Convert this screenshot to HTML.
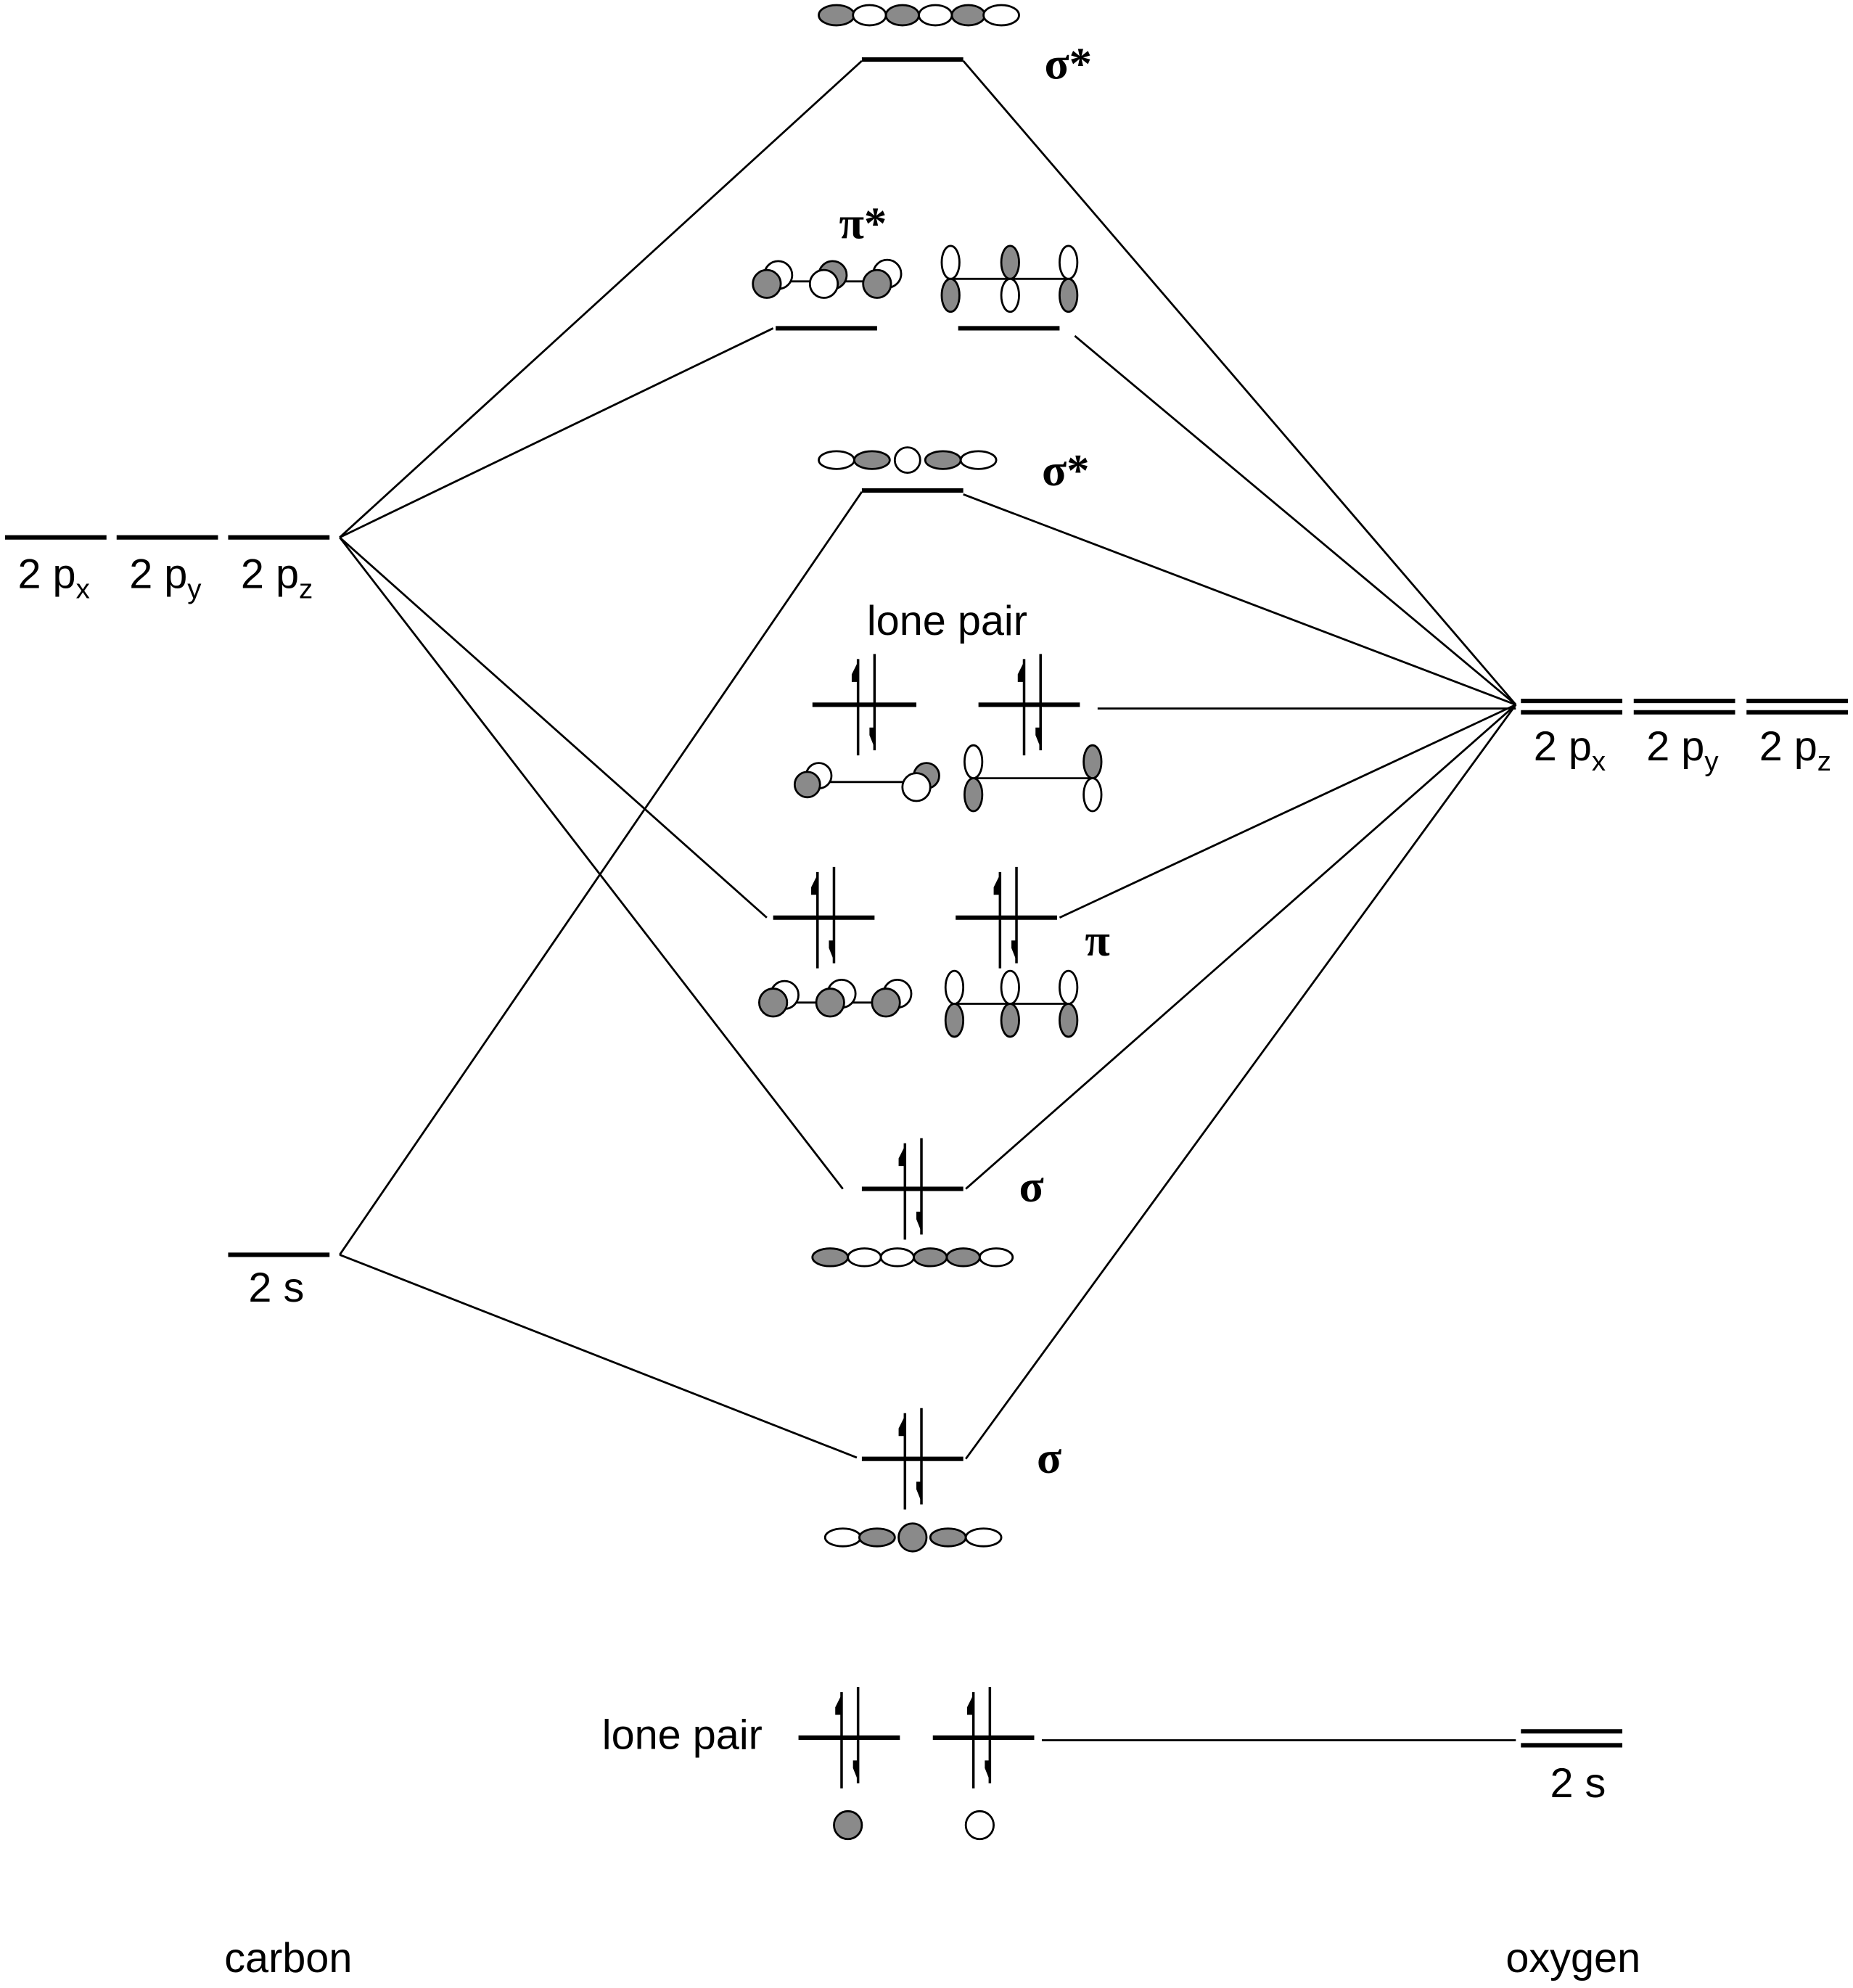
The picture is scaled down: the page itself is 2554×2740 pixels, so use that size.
<!DOCTYPE html>
<html><head><meta charset="utf-8"><style>
html,body{margin:0;padding:0;background:#fff}
svg{display:block}
.s{font-family:"Liberation Sans",sans-serif;font-size:33px;fill:#000}
.g{font-family:"Liberation Serif",serif;font-size:36px;font-weight:bold;fill:#000}
.sub{font-size:22px}
</style></head><body>
<svg width="2554" height="2740" viewBox="0 0 1462 1568.5" xmlns="http://www.w3.org/2000/svg">
<defs>
<g id="up"><line x1="0" y1="-36" x2="0" y2="40" stroke="#000" stroke-width="2"/><polygon points="0,-34 -5,-24 -5,-18 0,-18" fill="#000"/></g>
<g id="dn"><line x1="0" y1="-40" x2="0" y2="36" stroke="#000" stroke-width="2"/><polygon points="0,34 -4,24 -4,18 0,18" fill="#000"/></g>
</defs>
<g stroke="#000" stroke-width="1.6" fill="none">
<line x1="268" y1="424" x2="680" y2="48"/>
<line x1="760" y1="48" x2="1196" y2="556"/>
<line x1="268" y1="424" x2="610" y2="259"/>
<line x1="848" y1="265" x2="1196" y2="556"/>
<line x1="268" y1="990" x2="680" y2="388"/>
<line x1="760" y1="390" x2="1196" y2="556"/>
<line x1="866" y1="559" x2="1196" y2="559"/>
<line x1="268" y1="424" x2="605" y2="724"/>
<line x1="836" y1="724" x2="1196" y2="556"/>
<line x1="268" y1="424" x2="665" y2="938"/>
<line x1="762" y1="938" x2="1196" y2="556"/>
<line x1="268" y1="990" x2="676" y2="1150"/>
<line x1="762" y1="1151" x2="1196" y2="556"/>
<line x1="822" y1="1373" x2="1196" y2="1373"/>
</g>
<g stroke="#000" stroke-width="3.5">
<line x1="4" y1="424" x2="84" y2="424"/><line x1="92" y1="424" x2="172" y2="424"/><line x1="180" y1="424" x2="260" y2="424"/>
<line x1="180" y1="990" x2="260" y2="990"/>
<line x1="1200" y1="553" x2="1280" y2="553"/><line x1="1200" y1="562" x2="1280" y2="562"/>
<line x1="1289" y1="553" x2="1369" y2="553"/><line x1="1289" y1="562" x2="1369" y2="562"/>
<line x1="1378" y1="553" x2="1458" y2="553"/><line x1="1378" y1="562" x2="1458" y2="562"/>
<line x1="1200" y1="1366" x2="1280" y2="1366"/><line x1="1200" y1="1377" x2="1280" y2="1377"/>
<line x1="680" y1="47" x2="760" y2="47"/>
<line x1="612" y1="259" x2="692" y2="259"/><line x1="756" y1="259" x2="836" y2="259"/>
<line x1="680" y1="387" x2="760" y2="387"/>
<line x1="641" y1="556" x2="723" y2="556"/><line x1="772" y1="556" x2="852" y2="556"/>
<line x1="610" y1="724" x2="690" y2="724"/><line x1="754" y1="724" x2="834" y2="724"/>
<line x1="680" y1="938" x2="760" y2="938"/>
<line x1="680" y1="1151" x2="760" y2="1151"/>
<line x1="630" y1="1371" x2="710" y2="1371"/><line x1="736" y1="1371" x2="816" y2="1371"/>
</g>
<use href="#up" x="677" y="556"/><use href="#dn" x="690" y="556"/>
<use href="#up" x="808" y="556"/><use href="#dn" x="821" y="556"/>
<use href="#up" x="645" y="724"/><use href="#dn" x="658" y="724"/>
<use href="#up" x="789" y="724"/><use href="#dn" x="802" y="724"/>
<use href="#up" x="714" y="938"/><use href="#dn" x="727" y="938"/>
<use href="#up" x="714" y="1151"/><use href="#dn" x="727" y="1151"/>
<use href="#up" x="664" y="1371"/><use href="#dn" x="677" y="1371"/>
<use href="#up" x="768" y="1371"/><use href="#dn" x="781" y="1371"/>
<g stroke="#000" stroke-width="1.6">
<ellipse cx="660" cy="12" rx="14" ry="8" fill="#8a8a8a"/><ellipse cx="686" cy="12" rx="13" ry="8" fill="#fff"/>
<ellipse cx="712" cy="12" rx="13" ry="8" fill="#8a8a8a"/><ellipse cx="738" cy="12" rx="13" ry="8" fill="#fff"/>
<ellipse cx="764" cy="12" rx="13" ry="8" fill="#8a8a8a"/><ellipse cx="790" cy="12" rx="14" ry="8" fill="#fff"/>
<line x1="605" y1="222" x2="692" y2="222"/>
<circle cx="614" cy="217" r="11" fill="#fff"/><circle cx="605" cy="224" r="11" fill="#8a8a8a"/>
<circle cx="657" cy="217" r="11" fill="#8a8a8a"/><circle cx="650" cy="224" r="11" fill="#fff"/>
<circle cx="700" cy="216" r="11" fill="#fff"/><circle cx="692" cy="224" r="11" fill="#8a8a8a"/>
<line x1="750" y1="220" x2="843" y2="220"/>
<ellipse cx="750" cy="207" rx="7" ry="13" fill="#fff"/><ellipse cx="750" cy="233" rx="7" ry="13" fill="#8a8a8a"/>
<ellipse cx="797" cy="207" rx="7" ry="13" fill="#8a8a8a"/><ellipse cx="797" cy="233" rx="7" ry="13" fill="#fff"/>
<ellipse cx="843" cy="207" rx="7" ry="13" fill="#fff"/><ellipse cx="843" cy="233" rx="7" ry="13" fill="#8a8a8a"/>
<ellipse cx="660" cy="363" rx="14" ry="7" fill="#fff"/><ellipse cx="688" cy="363" rx="14" ry="7" fill="#8a8a8a"/>
<circle cx="716" cy="363" r="10" fill="#fff"/>
<ellipse cx="744" cy="363" rx="14" ry="7" fill="#8a8a8a"/><ellipse cx="772" cy="363" rx="14" ry="7" fill="#fff"/>
<line x1="637" y1="617" x2="723" y2="617"/>
<circle cx="646" cy="612" r="10" fill="#fff"/><circle cx="637" cy="619" r="10" fill="#8a8a8a"/>
<circle cx="731" cy="612" r="10" fill="#8a8a8a"/><circle cx="723" cy="621" r="11" fill="#fff"/>
<line x1="768" y1="614" x2="862" y2="614"/>
<ellipse cx="768" cy="601" rx="7" ry="13" fill="#fff"/><ellipse cx="768" cy="627" rx="7" ry="13" fill="#8a8a8a"/>
<ellipse cx="862" cy="601" rx="7" ry="13" fill="#8a8a8a"/><ellipse cx="862" cy="627" rx="7" ry="13" fill="#fff"/>
<line x1="610" y1="791" x2="699" y2="791"/>
<circle cx="619" cy="785" r="11" fill="#fff"/><circle cx="610" cy="791" r="11" fill="#8a8a8a"/>
<circle cx="664" cy="784" r="11" fill="#fff"/><circle cx="655" cy="791" r="11" fill="#8a8a8a"/>
<circle cx="708" cy="784" r="11" fill="#fff"/><circle cx="699" cy="791" r="11" fill="#8a8a8a"/>
<line x1="753" y1="792" x2="843" y2="792"/>
<ellipse cx="753" cy="779" rx="7" ry="13" fill="#fff"/><ellipse cx="753" cy="805" rx="7" ry="13" fill="#8a8a8a"/>
<ellipse cx="797" cy="779" rx="7" ry="13" fill="#fff"/><ellipse cx="797" cy="805" rx="7" ry="13" fill="#8a8a8a"/>
<ellipse cx="843" cy="779" rx="7" ry="13" fill="#fff"/><ellipse cx="843" cy="805" rx="7" ry="13" fill="#8a8a8a"/>
<ellipse cx="655" cy="992" rx="14" ry="7" fill="#8a8a8a"/><ellipse cx="682" cy="992" rx="13" ry="7" fill="#fff"/>
<ellipse cx="708" cy="992" rx="13" ry="7" fill="#fff"/><ellipse cx="734" cy="992" rx="13" ry="7" fill="#8a8a8a"/>
<ellipse cx="760" cy="992" rx="13" ry="7" fill="#8a8a8a"/><ellipse cx="786" cy="992" rx="13" ry="7" fill="#fff"/>
<ellipse cx="665" cy="1213" rx="14" ry="7" fill="#fff"/><ellipse cx="692" cy="1213" rx="14" ry="7" fill="#8a8a8a"/>
<circle cx="720" cy="1213" r="11" fill="#8a8a8a"/>
<ellipse cx="748" cy="1213" rx="14" ry="7" fill="#8a8a8a"/><ellipse cx="776" cy="1213" rx="14" ry="7" fill="#fff"/>
<circle cx="669" cy="1440" r="11" fill="#8a8a8a"/><circle cx="773" cy="1440" r="11" fill="#fff"/>
</g>
<text class="s" x="14" y="464">2 p<tspan class="sub" dy="8">x</tspan></text>
<text class="s" x="102" y="464">2 p<tspan class="sub" dy="8">y</tspan></text>
<text class="s" x="190" y="464">2 p<tspan class="sub" dy="8">z</tspan></text>
<text class="s" x="196" y="1027">2 s</text>
<text class="s" x="1210" y="600">2 p<tspan class="sub" dy="8">x</tspan></text>
<text class="s" x="1299" y="600">2 p<tspan class="sub" dy="8">y</tspan></text>
<text class="s" x="1388" y="600">2 p<tspan class="sub" dy="8">z</tspan></text>
<text class="s" x="1223" y="1418">2 s</text>
<text class="s" x="684" y="501">lone pair</text>
<text class="s" x="475" y="1380">lone pair</text>
<text class="s" x="177" y="1556">carbon</text>
<text class="s" x="1188" y="1556">oxygen</text>
<text class="g" x="824" y="62">σ*</text>
<text class="g" x="662" y="188">π*</text>
<text class="g" x="822" y="383">σ*</text>
<text class="g" x="856" y="754">π</text>
<text class="g" x="804" y="948">σ</text>
<text class="g" x="818" y="1162">σ</text>
</svg>
</body></html>
